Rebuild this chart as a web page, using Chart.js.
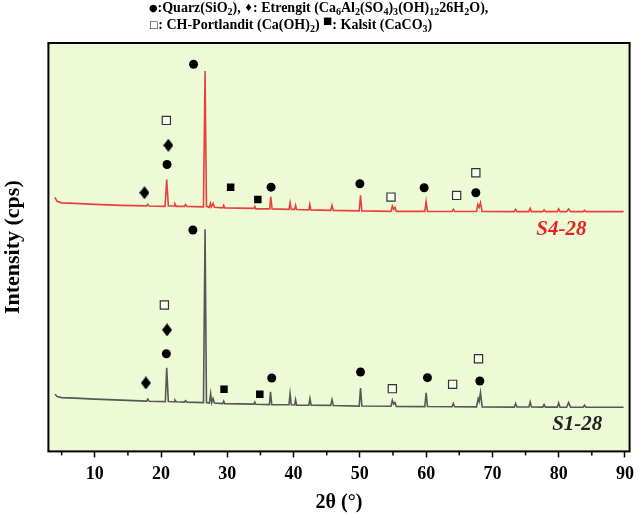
<!DOCTYPE html>
<html>
<head>
<meta charset="utf-8">
<script src="https://cdn.jsdelivr.net/npm/chart.js@4.4.1/dist/chart.umd.min.js"></script>
<style>
  html, body { margin: 0; padding: 0; background: #fff; }
  canvas { display: block; }
</style>
</head>
<body>
<canvas id="xrdChart" width="640" height="515"></canvas>
<script>
// XRD patterns: [2theta, intensity (arb.)]
const s4Pattern = [
  [4.0, 255], [4.3, 251], [5.0, 249.5], [7.0, 249], [10.0, 248], [14.0, 247], [17.8, 246.5],
  [18.0, 248], [18.2, 246.3], [20.6, 246], [20.85, 273], [21.1, 246.5], [22.0, 246.3],
  [22.1, 248.5], [22.3, 246], [23.5, 246], [23.7, 248], [23.9, 246], [26.4, 245.5],
  [26.64, 382], [26.85, 246], [27.3, 245], [27.45, 249], [27.6, 245.5], [27.85, 249],
  [28.05, 245], [29.3, 244.5], [29.45, 247], [29.6, 244.5], [34.0, 244], [34.15, 246],
  [34.3, 243.5], [36.4, 243.5], [36.55, 255.7], [36.75, 243.5], [39.3, 243], [39.47, 249.7],
  [39.65, 243], [40.15, 243], [40.3, 247], [40.45, 242.8], [42.3, 242.5], [42.45, 248],
  [42.6, 242.5], [45.6, 242], [45.8, 247], [46.0, 242], [49.9, 241.5], [50.1, 257],
  [50.3, 241.5], [54.7, 241], [54.9, 246.3], [55.1, 243], [55.3, 245], [55.5, 241],
  [59.8, 241], [60.0, 250.7], [60.2, 241], [63.9, 240.8], [64.1, 243], [64.3, 240.8],
  [67.6, 240.8], [67.8, 248], [68.0, 245], [68.2, 249.7], [68.45, 240.8], [73.3, 240.7],
  [73.5, 243], [73.7, 240.7], [75.5, 240.7], [75.7, 244], [75.9, 240.7], [77.6, 240.7],
  [77.8, 242.5], [78.0, 240.7], [79.8, 240.7], [80.0, 243.5], [80.2, 240.7], [81.2, 240.7],
  [81.5, 243.5], [81.8, 240.7], [83.7, 240.7], [83.9, 242], [84.1, 240.7], [89.8, 240.7]
];
const s1Pattern = [
  [4.0, 57.5], [4.3, 55], [5.0, 54], [7.0, 53.5], [10.0, 52.5], [14.0, 51.5], [17.8, 50.5],
  [18.0, 52.5], [18.2, 50.3], [20.65, 50], [20.85, 84], [21.1, 50], [22.0, 49.8],
  [22.1, 51.5], [22.3, 49.8], [23.5, 49.5], [23.7, 51], [23.9, 49.5], [26.4, 49],
  [26.64, 223], [26.85, 49], [27.3, 48.5], [27.48, 58], [27.65, 49], [27.85, 53],
  [28.05, 48.5], [29.3, 48], [29.45, 50.5], [29.6, 48], [34.0, 47.5], [34.15, 49.5],
  [34.3, 47.3], [36.35, 47], [36.52, 59.7], [36.7, 47], [39.3, 46.8], [39.47, 58],
  [39.65, 46.8], [40.15, 46.6], [40.3, 52], [40.45, 46.5], [42.3, 46.4], [42.47, 53],
  [42.65, 46.3], [45.6, 46.2], [45.8, 52], [46.0, 46], [49.9, 45.5], [50.1, 63.7],
  [50.3, 45.5], [54.7, 45.3], [54.9, 51.3], [55.1, 47.5], [55.3, 49], [55.5, 45.2],
  [59.8, 45], [60.0, 58.7], [60.2, 45], [63.9, 44.8], [64.1, 48], [64.3, 44.8],
  [67.6, 44.7], [67.85, 53], [68.0, 50], [68.2, 59], [68.45, 44.7], [73.3, 44.5],
  [73.5, 48], [73.7, 44.5], [75.5, 44.5], [75.7, 49.7], [75.9, 44.5], [77.6, 44.4],
  [77.8, 47], [78.0, 44.4], [79.8, 44.4], [80.0, 48.7], [80.2, 44.4], [81.2, 44.3],
  [81.5, 49], [81.8, 44.3], [83.7, 44.3], [83.9, 46.3], [84.1, 44.3], [89.8, 44.3]
];

// phase markers above the peaks: [2theta, intensity]
const quartzMarks = [
  [24.9, 388.7], [20.9, 288], [36.6, 265.3], [50.0, 268.7], [59.7, 264.7], [67.5, 259.7],
  [24.8, 222.3], [20.8, 98], [36.7, 73.7], [50.1, 79.7], [60.2, 74], [68.1, 70.7]
];
const ettringiteMarks = [[21.1, 307.3], [17.5, 259.7], [20.9, 122], [17.7, 68.7]];
const portlanditeMarks = [
  [20.8, 332.3], [54.7, 255.3], [64.6, 257], [67.5, 279.7],
  [20.5, 147], [54.9, 63], [64.0, 67.3], [67.9, 93]
];
const calciteMarks = [[30.5, 265.3], [34.6, 253], [29.5, 62.3], [34.9, 57.3]];

const sampleNames = ["S4-28", "S1-28"];
const sampleLabelAt = [[80.4, 223], [82.8, 27]];

const xMajorTicks = [10, 20, 30, 40, 50, 60, 70, 80, 90];
const xMinorTicks = [5, 15, 25, 35, 45, 55, 65, 75, 85];

const SERIF = '"Liberation Serif", "Times New Roman", serif';
const RED = "#e8403c";
const GREY = "#575757";
const PLOT_BG = "#eefad6";

const toXY = (arr) => arr.map(([x, y]) => ({ x, y }));

// tall diamond for ettringite
const diamond = document.createElement("canvas");
diamond.width = 10;
diamond.height = 13;
(() => {
  const c = diamond.getContext("2d");
  c.fillStyle = "#000";
  c.beginPath();
  c.moveTo(5, 0); c.lineTo(10, 6.5); c.lineTo(5, 13); c.lineTo(0, 6.5);
  c.closePath();
  c.fill();
})();

// header lines: [text, kind]
const headerLine1 = [
  ["●", "sym"], [":Quarz(SiO"], ["2", "sub"], ["), "], ["♦", "sym"], [": Etrengit (Ca"],
  ["6", "sub"], ["Al"], ["2", "sub"], ["(SO"], ["4", "sub"], [")"], ["3", "sub"], ["(OH)"],
  ["12", "sub"], ["26H"], ["2", "sub"], ["O),"]
];
const headerLine2 = [
  ["□", "sym"], [": CH-Portlandit (Ca(OH)"], ["2", "sub"], [") "], ["■", "sup"],
  [": Kalsit (CaCO"], ["3", "sub"], [")"]
];

function drawRich(ctx, parts, x, y, size) {
  ctx.textBaseline = "alphabetic";
  ctx.textAlign = "left";
  parts.forEach(([txt, kind]) => {
    let dy = 0;
    if (kind === "sub") { ctx.font = `bold ${size * 0.72}px ${SERIF}`; dy = 3; }
    else if (kind === "sym") { ctx.font = `${size * 0.7}px "DejaVu Sans"`; dy = -1; }
    else if (kind === "sup") { ctx.font = `${size * 0.7}px "DejaVu Sans"`; dy = -5; }
    else ctx.font = `bold ${size}px ${SERIF}`;
    ctx.fillText(txt, x, y + dy);
    x += ctx.measureText(txt).width;
  });
}

const decor = {
  id: "decor",
  beforeDraw(chart) {
    const { ctx, chartArea: a } = chart;
    ctx.save();
    ctx.fillStyle = PLOT_BG;
    ctx.fillRect(a.left, a.top, a.right - a.left, a.bottom - a.top);
    ctx.restore();
  },
  afterDraw(chart) {
    const { ctx, chartArea: a, scales } = chart;
    ctx.save();
    ctx.strokeStyle = "#000";
    ctx.lineWidth = 2;
    ctx.strokeRect(a.left, a.top, a.right - a.left, a.bottom - a.top);

    ctx.lineWidth = 1.5;
    xMinorTicks.forEach((v) => {
      const px = scales.x.getPixelForValue(v);
      ctx.beginPath();
      ctx.moveTo(px, a.bottom);
      ctx.lineTo(px, a.bottom + 4);
      ctx.stroke();
    });

    ctx.font = `italic bold 21px ${SERIF}`;
    ctx.textAlign = "center";
    ctx.textBaseline = "middle";
    sampleNames.forEach((name, i) => {
      const [lx, ly] = sampleLabelAt[i];
      ctx.fillStyle = i === 0 ? "#e8211f" : "#222";
      ctx.fillText(name, scales.x.getPixelForValue(lx), scales.y.getPixelForValue(ly));
    });

    ctx.fillStyle = "#000";
    drawRich(ctx, headerLine1, 149, 12, 14);
    drawRich(ctx, headerLine2, 149, 29, 14);
    ctx.restore();
  }
};

new Chart(document.getElementById("xrdChart"), {
  type: "scatter",
  data: {
    datasets: [
      { data: toXY(quartzMarks), pointStyle: "circle", pointRadius: 4.5,
        backgroundColor: "#000", borderColor: "#000", borderWidth: 0 },
      { data: toXY(ettringiteMarks), pointStyle: diamond, borderWidth: 0 },
      { data: toXY(portlanditeMarks), pointStyle: "rect", pointRadius: 5.8,
        backgroundColor: "rgba(255,255,255,0.5)", borderColor: "#333", borderWidth: 1.2 },
      { data: toXY(calciteMarks), pointStyle: "rect", pointRadius: 5.3,
        backgroundColor: "#000", borderColor: "#000", borderWidth: 0 },
      { data: toXY(s4Pattern), showLine: true, pointRadius: 0, borderColor: RED, borderWidth: 1.6 },
      { data: toXY(s1Pattern), showLine: true, pointRadius: 0, borderColor: GREY, borderWidth: 1.6 }
    ]
  },
  options: {
    responsive: false,
    animation: false,
    layout: { padding: { top: 43, right: 6, left: 0, bottom: 0 } },
    plugins: { legend: { display: false }, tooltip: { enabled: false } },
    elements: { point: { hoverRadius: 0 } },
    scales: {
      x: {
        type: "linear",
        min: 3,
        max: 90.7,
        afterBuildTicks: (scale) => { scale.ticks = xMajorTicks.map((v) => ({ value: v })); },
        ticks: { color: "#000", padding: 6, font: { family: SERIF, size: 18, weight: "bold" } },
        grid: { drawOnChartArea: false, tickLength: 6, tickColor: "#000", tickWidth: 1.5 },
        border: { display: false },
        title: {
          display: true, text: "2θ (°)", color: "#000",
          font: { family: SERIF, size: 20, weight: "bold" }, padding: { top: 0, bottom: 0 }
        }
      },
      y: {
        min: 0,
        max: 410,
        ticks: { display: false },
        grid: { display: false },
        border: { display: false },
        title: {
          display: true, text: "Intensity (cps)", color: "#000",
          font: { family: SERIF, size: 22, weight: "bold" }, padding: { top: 0, bottom: 14 }
        }
      }
    }
  },
  plugins: [decor]
});
</script>
</body>
</html>
